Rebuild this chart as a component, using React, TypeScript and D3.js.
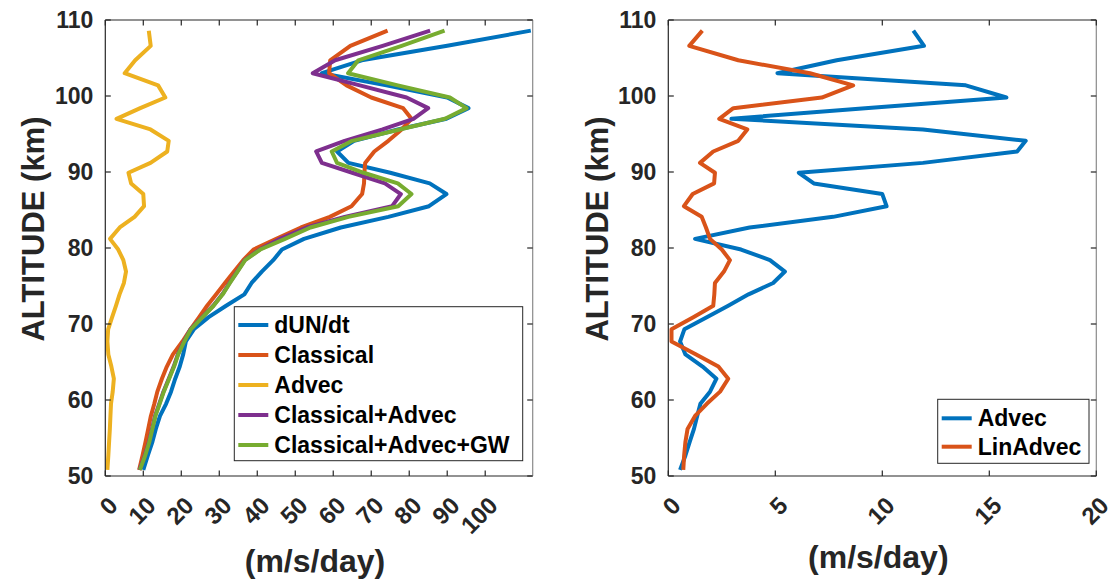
import React from "react";
import * as d3 from "d3";

// Model levels (km) shared by every profile
const altitude = [
  50.8, 52.7, 54.5, 56.2, 57.9, 59.5, 61.1, 62.8, 64.4, 66.0, 67.7, 69.3, 70.9, 72.4,
  73.9, 75.4, 76.9, 78.4, 79.8, 81.2, 82.7, 84.1, 85.5, 87.1, 88.5, 89.9, 91.2, 92.7,
  94.1, 95.6, 97.0, 98.4, 99.8, 101.4, 103.0, 104.7, 106.6, 108.6,
];

// Zonal wind tendency terms (m/s/day)
const dUNdt = [
  10.0, 11.2, 12.4, 13.3, 14.4, 16.0, 17.3, 18.4, 19.6, 20.5, 21.2, 23.3, 27.2, 31.8,
  36.6, 38.5, 41.2, 44.2, 46.5, 52.3, 62.0, 74.5, 85.2, 89.8, 85.4, 75.0, 64.0, 61.0,
  65.5, 77.0, 89.8, 95.6, 90.0, 74.0, 57.0, 67.5, 90.0, 112.0,
];
const classical = [
  8.9, 9.8, 10.6, 11.3, 12.0, 12.9, 13.7, 14.9, 16.2, 17.8, 20.3, 22.4, 24.7, 26.8,
  29.2, 31.5, 33.9, 36.3, 39.0, 45.0, 51.5, 59.1, 64.8, 67.6, 68.1, 68.2, 68.4, 70.8,
  74.5, 78.0, 80.6, 78.4, 70.0, 63.5, 58.9, 59.2, 64.5, 74.3,
];
const advec = [
  0.55, 0.8, 1.0, 1.2, 1.35, 1.5, 1.95, 2.25, 1.6, 0.8, 0.55, 0.75, 1.8, 2.8,
  3.75, 4.9, 5.45, 4.75, 3.4, 1.25, 3.8, 7.7, 10.2, 10.0, 6.8, 6.1, 11.9, 16.3,
  16.7, 11.9, 2.95, 9.2, 15.8, 13.9, 5.1, 7.87, 11.95, 11.45,
];
const classicalAdvec = [
  9.0, 10.4, 11.5, 12.3, 13.1, 14.2, 15.3, 16.7, 18.0, 19.1, 20.7, 22.4, 25.5, 28.4,
  30.8, 32.7, 34.7, 36.7, 40.6, 46.0, 53.0, 63.0, 75.5, 77.8, 73.6, 65.0, 57.0, 55.5,
  63.0, 73.0, 81.1, 85.0, 79.3, 67.0, 54.6, 60.5, 73.0, 85.5,
];
const classicalAdvecGW = [
  9.1, 10.5, 11.6, 12.4, 13.2, 14.3, 15.4, 16.8, 18.1, 19.2, 20.8, 22.5, 25.6, 28.5,
  30.9, 32.8, 34.8, 36.8, 40.8, 47.3, 54.0, 64.0, 77.1, 80.6, 77.0, 68.0, 61.0, 59.6,
  65.0, 77.5, 89.4, 95.1, 90.7, 77.0, 63.9, 66.6, 78.0, 89.3,
];
const linAdvec = [
  0.7, 0.74, 0.8, 0.9, 1.25, 1.8, 2.42, 2.8, 2.34, 1.3, 0.15, 0.15, 1.17, 2.1,
  2.15, 2.18, 2.6, 2.88, 2.5, 1.95, 1.76, 1.56, 0.73, 1.14, 2.14, 2.18, 1.48, 2.1,
  3.27, 3.69, 2.38, 3.04, 7.17, 8.64, 6.62, 3.27, 0.98, 1.59,
];

const leftSeriesNames = ["dUN/dt", "Classical", "Advec", "Classical+Advec", "Classical+Advec+GW"];
const rightSeriesNames = ["Advec", "LinAdvec"];
const leftXTicks = [0, 10, 20, 30, 40, 50, 60, 70, 80, 90, 100];
const rightXTicks = [0, 5, 10, 15, 20];
const yTicks = [50, 60, 70, 80, 90, 100, 110];

const COLORS = ["#0072BD", "#D95319", "#EDB120", "#7E2F8E", "#77AC30"];
const INK = "#262626";
const FONT = "'Liberation Sans', Arial, Helvetica, sans-serif";

const W = 1115;
const H = 579;
const TOP = 20;
const BOTTOM = 476;

type Series = { name: string; values: number[]; color: string };

type PanelProps = {
  id: string;
  x0: number;
  x1: number;
  xDomain: [number, number];
  xTicks: number[];
  series: Series[];
  legend: { x0: number; x1: number; y0: number; y1: number; rowY0: number; rowStep: number };
  yLabelX: number;
  xLabelY: number;
};

function Panel({ id, x0, x1, xDomain, xTicks, series, legend, yLabelX, xLabelY }: PanelProps) {
  const x = d3.scaleLinear().domain(xDomain).range([x0, x1]);
  const y = d3.scaleLinear().domain([50, 110]).range([BOTTOM, TOP]);
  const line = d3
    .line<number>()
    .x((v) => x(v))
    .y((_, i) => y(altitude[i]));
  const tick = 5.5;
  const clipId = `clip-${id}`;
  return (
    <g>
      <defs>
        <clipPath id={clipId}>
          <rect x={x0} y={TOP} width={x1 - x0} height={BOTTOM - TOP} />
        </clipPath>
      </defs>
      {/* profiles */}
      <g clipPath={`url(#${clipId})`}>
        {series.map((s) => (
          <path
            key={s.name}
            d={line(s.values) ?? ""}
            fill="none"
            stroke={s.color}
            strokeWidth={4}
            strokeLinejoin="round"
            strokeLinecap="butt"
          />
        ))}
      </g>
      {/* box */}
      <line x1={x0} x2={x1} y1={TOP} y2={TOP} stroke={INK} strokeWidth={1.2} />
      <line x1={x0} x2={x1} y1={BOTTOM} y2={BOTTOM} stroke={INK} strokeWidth={1.2} />
      <line x1={x0} x2={x0} y1={TOP} y2={BOTTOM} stroke={INK} strokeWidth={1.2} />
      <line x1={x1} x2={x1} y1={TOP} y2={BOTTOM} stroke="#8a8a8a" strokeWidth={1.2} />
      {/* x ticks */}
      {xTicks.map((t) => (
        <g key={`xt${t}`}>
          <line x1={x(t)} x2={x(t)} y1={BOTTOM} y2={BOTTOM - tick} stroke={INK} strokeWidth={1.2} />
          <line x1={x(t)} x2={x(t)} y1={TOP} y2={TOP + tick} stroke={INK} strokeWidth={1.2} />
          <text
            transform={`translate(${x(t) + 8},${501}) rotate(-45)`}
            textAnchor="end"
            dominantBaseline="central"
            fontFamily={FONT}
            fontWeight="bold"
            fontSize={24}
            fill={INK}
          >
            {t}
          </text>
        </g>
      ))}
      {/* y ticks */}
      {yTicks.map((t) => (
        <g key={`yt${t}`}>
          <line x1={x0} x2={x0 + tick} y1={y(t)} y2={y(t)} stroke={INK} strokeWidth={1.2} />
          <line x1={x1} x2={x1 - tick} y1={y(t)} y2={y(t)} stroke={INK} strokeWidth={1.2} />
          <text
            x={x0 - 12}
            y={y(t)}
            textAnchor="end"
            dominantBaseline="central"
            fontFamily={FONT}
            fontWeight="bold"
            fontSize={23}
            fill={INK}
          >
            {t}
          </text>
        </g>
      ))}
      {/* axis titles */}
      <text
        transform={`translate(${yLabelX},${229}) rotate(-90)`}
        textAnchor="middle"
        dominantBaseline="central"
        fontFamily={FONT}
        fontWeight="bold"
        fontSize={31}
        fill={INK}
      >
        ALTITUDE (km)
      </text>
      <text
        x={(x0 + x1) / 2 - 4}
        y={xLabelY}
        textAnchor="middle"
        fontFamily={FONT}
        fontWeight="bold"
        fontSize={32}
        fill={INK}
      >
        (m/s/day)
      </text>
      {/* legend */}
      <rect
        x={legend.x0}
        y={legend.y0}
        width={legend.x1 - legend.x0}
        height={legend.y1 - legend.y0}
        fill="#fff"
        stroke={INK}
        strokeWidth={1}
      />
      {series.map((s, i) => {
        const ry = legend.rowY0 + i * legend.rowStep;
        return (
          <g key={`lg${s.name}`}>
            <line
              x1={legend.x0 + 4}
              x2={legend.x0 + 34}
              y1={ry}
              y2={ry}
              stroke={s.color}
              strokeWidth={4}
            />
            <text
              x={legend.x0 + 40}
              y={ry}
              dominantBaseline="central"
              fontFamily={FONT}
              fontWeight="bold"
              fontSize={23}
              fill="#000"
            >
              {s.name}
            </text>
          </g>
        );
      })}
    </g>
  );
}

export default function App() {
  const leftValues = [dUNdt, classical, advec, classicalAdvec, classicalAdvecGW];
  const leftSeries: Series[] = leftSeriesNames.map((name, i) => ({
    name,
    values: leftValues[i],
    color: COLORS[i],
  }));
  const rightValues = [advec, linAdvec];
  const rightSeries: Series[] = rightSeriesNames.map((name, i) => ({
    name,
    values: rightValues[i],
    color: COLORS[i],
  }));
  return (
    <div style={{ position: "absolute", left: 0, top: 0, width: W, height: H, background: "#fff" }}>
      <svg width={W} height={H} viewBox={`0 0 ${W} ${H}`} style={{ display: "block" }}>
        <rect width={W} height={H} fill="#fff" />
        <Panel
          id="left"
          x0={105.3}
          x1={532.7}
          xDomain={[0, 112.5]}
          xTicks={leftXTicks}
          series={leftSeries}
          legend={{ x0: 234.3, x1: 522.7, y0: 306.7, y1: 460.7, rowY0: 325, rowStep: 30 }}
          yLabelX={33}
          xLabelY={572}
        />
        <Panel
          id="right"
          x0={668.3}
          x1={1096.3}
          xDomain={[0, 20]}
          xTicks={rightXTicks}
          series={rightSeries}
          legend={{ x0: 937.7, x1: 1089, y0: 399.3, y1: 463.3, rowY0: 418.3, rowStep: 28.4 }}
          yLabelX={597}
          xLabelY={568}
        />
      </svg>
    </div>
  );
}
